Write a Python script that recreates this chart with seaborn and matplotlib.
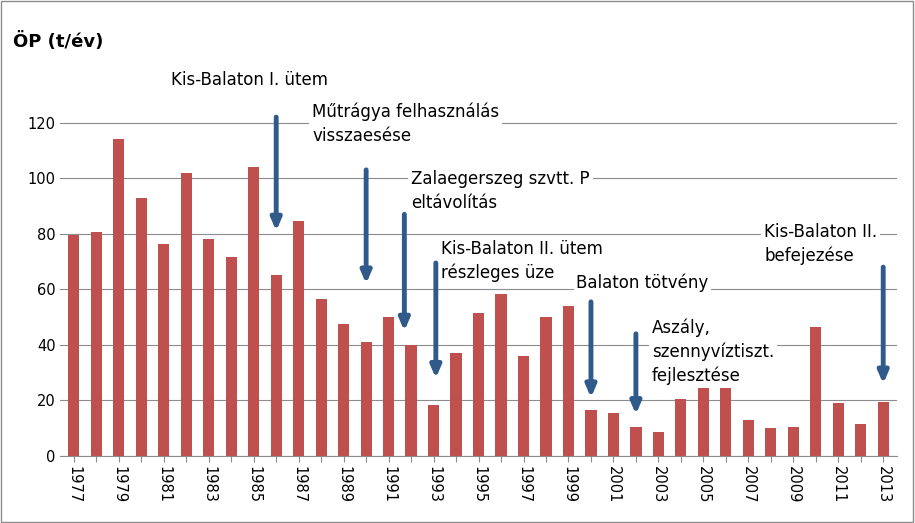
import matplotlib
matplotlib.use("Agg")
import matplotlib.pyplot as plt
import seaborn as sns
import pandas as pd

years = list(range(1977, 2014))
op = [79.5, 80.5, 114, 93, 76.5, 102, 78, 71.5, 104, 65, 84.5, 56.5, 47.5, 41, 50, 40,
      18.5, 37, 51.5, 58.5, 36, 50, 54, 16.5, 15.5, 10.5, 8.5, 20.5, 27, 24.5, 13, 10,
      10.5, 46.5, 19, 11.5, 19.5]

# arrows: year, top, tip
arrow_x = [1986, 1990, 1991.7, 1993.1, 2000, 2002, 2013]
arrow_top = [123, 104, 88, 70.5, 56.5, 45, 69]
arrow_tip = [80, 61, 44, 27, 20, 14, 25]

# annotations: left year, centre value, text
note_x = [1981.3, 1987.6, 1992.0, 1993.35, 1999.35, 2002.7, 2007.7]
note_y = [135.5, 119.6, 95.5, 70.3, 62.3, 37.5, 76.4]
note_txt = ["Kis-Balaton I. ütem", "Műtrágya felhasználás\nvisszaesése",
            "Zalaegerszeg szvtt. P\neltávolítás", "Kis-Balaton II. ütem\nrészleges üze",
            "Balaton tötvény", "Aszály,\nszennyvíztiszt.\nfejlesztése",
            "Kis-Balaton II.\nbefejezése"]

df = pd.DataFrame({"year": years, "op": op})

fig = plt.figure(figsize=(9.15, 5.23), dpi=100)
ax = fig.add_axes([0.066, 0.128, 0.914, 0.85])
sns.barplot(data=df, x="year", y="op", color="#C0504D", width=0.5, saturation=1, ax=ax, zorder=2)

ax.set_ylim(0, 160)
ax.set_xlim(-0.6, len(years) - 0.4)
ax.set_yticks(range(0, 121, 20))
ax.yaxis.grid(True, color="#8c8c8c", lw=0.8, zorder=0)
ax.set_axisbelow(True)
ax.set_xticks(range(len(years)))
ax.set_xticklabels([str(y) if (y - 1977) % 2 == 0 else "" for y in years], rotation=270, fontsize=10.5)
ax.tick_params(axis="y", labelsize=10.5, length=0)
ax.tick_params(axis="x", length=4, color="#8c8c8c")
ax.set_xlabel("")
ax.set_ylabel("")
for s in ["top", "right", "left"]:
    ax.spines[s].set_visible(False)
ax.spines["bottom"].set_color("#8c8c8c")

for xv, top, tip in zip(arrow_x, arrow_top, arrow_tip):
    ax.annotate("", xy=(xv - 1977, tip), xytext=(xv - 1977, top),
                arrowprops=dict(arrowstyle="-|>,head_width=0.3,head_length=0.7",
                                color="#2F5A8A", lw=3.5), zorder=4)

for xv, yv, t in zip(note_x, note_y, note_txt):
    ax.text(xv - 1977, yv, t, fontsize=12, va="center", ha="left", linespacing=1.4,
            bbox=dict(facecolor="white", edgecolor="none", pad=2), zorder=5)

fig.text(0.014, 0.92, "ÖP (t/év)", fontsize=13, fontweight="bold", va="center")
fig.patches.append(plt.Rectangle((0.001, 0.002), 0.997, 0.996, transform=fig.transFigure,
                                 fill=False, edgecolor="#8c8c8c", lw=1))
fig.savefig("out.png", dpi=100)
